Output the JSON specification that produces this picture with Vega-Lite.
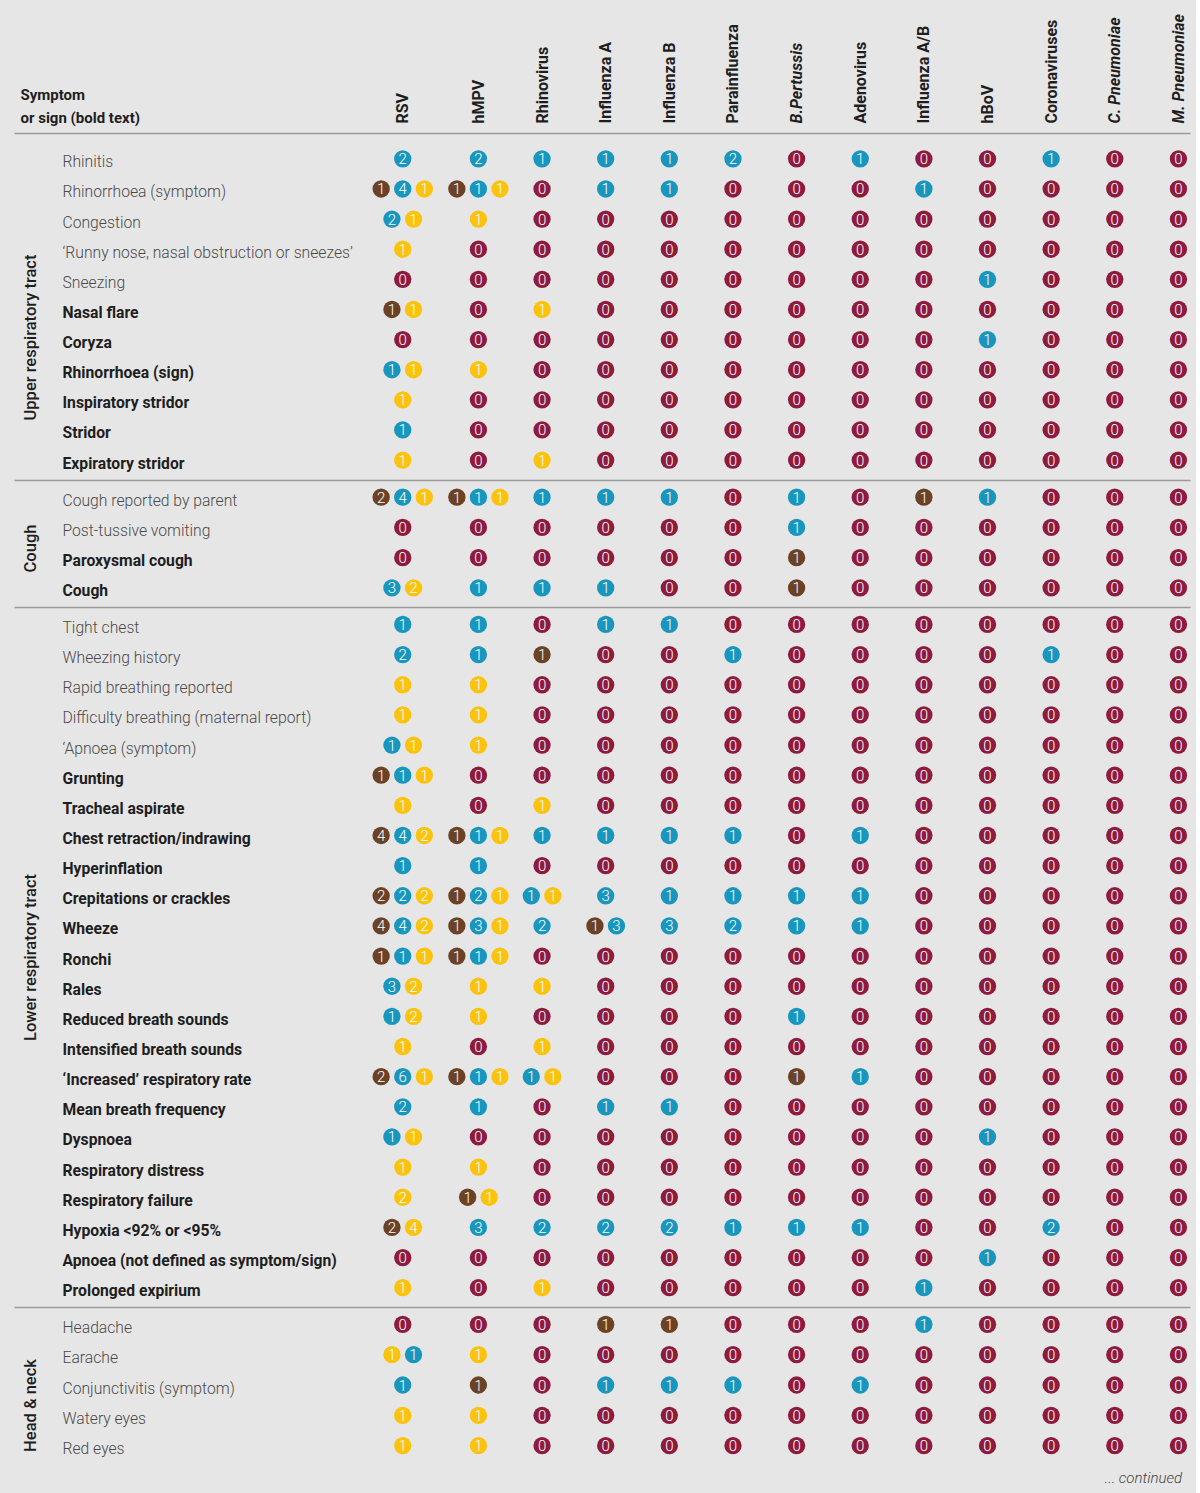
{
"$schema": "https://vega.github.io/schema/vega-lite/v6.json",
"background": "#e6e6e6",
"padding": {"left": 14, "top": 13, "right": 6, "bottom": 8},
"config": {
  "view": {"stroke": null},
  "font": "Roboto",
  "axis": {"grid": false},
  "axisY": {"ticks": false, "tickSize": 0, "domain": false, "labelAlign": "left", "labelPadding": -48, "labelFontSize": 15.7, "labelLimit": 400, "labelOffset": 3.5, "labelOverlap": false, "titleX": 16, "titleAngle": 270, "titleAlign": "center", "titleBaseline": "middle", "titleFontSize": 16.5, "titleFontWeight": 500, "titleColor": "#1e1e1e"},
  "axisX": {"ticks": false, "tickSize": 0, "domain": true, "domainColor": "#9a9a9a", "domainWidth": 1.5, "labelOverlap": false, "labelFlush": false, "labelBound": false}
},
"title": {"text": "... continued", "orient": "bottom", "anchor": "end", "fontSize": 15, "fontStyle": "italic", "fontWeight": 300, "color": "#444444", "offset": 8, "dx": -8},
"datasets": {
"symptoms": [
{"id":1,"s":"Rhinitis","g":"Upper respiratory tract"},
{"id":2,"s":"Rhinorrhoea (symptom)","g":"Upper respiratory tract"},
{"id":3,"s":"Congestion","g":"Upper respiratory tract"},
{"id":4,"s":"‘Runny nose, nasal obstruction or sneezes’","g":"Upper respiratory tract"},
{"id":5,"s":"Sneezing","g":"Upper respiratory tract"},
{"id":6,"s":"Nasal flare","g":"Upper respiratory tract"},
{"id":7,"s":"Coryza","g":"Upper respiratory tract"},
{"id":8,"s":"Rhinorrhoea (sign)","g":"Upper respiratory tract"},
{"id":9,"s":"Inspiratory stridor","g":"Upper respiratory tract"},
{"id":10,"s":"Stridor","g":"Upper respiratory tract"},
{"id":11,"s":"Expiratory stridor","g":"Upper respiratory tract"},
{"id":12,"s":"Cough reported by parent","g":"Cough"},
{"id":13,"s":"Post-tussive vomiting","g":"Cough"},
{"id":14,"s":"Paroxysmal cough","g":"Cough"},
{"id":15,"s":"Cough","g":"Cough"},
{"id":16,"s":"Tight chest","g":"Lower respiratory tract"},
{"id":17,"s":"Wheezing history","g":"Lower respiratory tract"},
{"id":18,"s":"Rapid breathing reported","g":"Lower respiratory tract"},
{"id":19,"s":"Difficulty breathing (maternal report)","g":"Lower respiratory tract"},
{"id":20,"s":"‘Apnoea (symptom)","g":"Lower respiratory tract"},
{"id":21,"s":"Grunting","g":"Lower respiratory tract"},
{"id":22,"s":"Tracheal aspirate","g":"Lower respiratory tract"},
{"id":23,"s":"Chest retraction/indrawing","g":"Lower respiratory tract"},
{"id":24,"s":"Hyperinflation","g":"Lower respiratory tract"},
{"id":25,"s":"Crepitations or crackles","g":"Lower respiratory tract"},
{"id":26,"s":"Wheeze","g":"Lower respiratory tract"},
{"id":27,"s":"Ronchi","g":"Lower respiratory tract"},
{"id":28,"s":"Rales","g":"Lower respiratory tract"},
{"id":29,"s":"Reduced breath sounds","g":"Lower respiratory tract"},
{"id":30,"s":"Intensified breath sounds","g":"Lower respiratory tract"},
{"id":31,"s":"‘Increased’ respiratory rate","g":"Lower respiratory tract"},
{"id":32,"s":"Mean breath frequency","g":"Lower respiratory tract"},
{"id":33,"s":"Dyspnoea","g":"Lower respiratory tract"},
{"id":34,"s":"Respiratory distress","g":"Lower respiratory tract"},
{"id":35,"s":"Respiratory failure","g":"Lower respiratory tract"},
{"id":36,"s":"Hypoxia <92% or <95%","g":"Lower respiratory tract"},
{"id":37,"s":"Apnoea (not defined as symptom/sign)","g":"Lower respiratory tract"},
{"id":38,"s":"Prolonged expirium","g":"Lower respiratory tract"},
{"id":39,"s":"Headache","g":"Head & neck"},
{"id":40,"s":"Earache","g":"Head & neck"},
{"id":41,"s":"Conjunctivitis (symptom)","g":"Head & neck"},
{"id":42,"s":"Watery eyes","g":"Head & neck"},
{"id":43,"s":"Red eyes","g":"Head & neck"}
],
"cells": [
{"id":1,"p":"RSV","c":"b","n":2},{"id":1,"p":"hMPV","c":"b","n":2},{"id":1,"p":"RV","c":"b","n":1},{"id":1,"p":"FluA","c":"b","n":1},{"id":1,"p":"FluB","c":"b","n":1},{"id":1,"p":"PIV","c":"b","n":2},{"id":1,"p":"BP","c":"z","n":0},{"id":1,"p":"AdV","c":"b","n":1},{"id":1,"p":"FluAB","c":"z","n":0},{"id":1,"p":"hBoV","c":"z","n":0},{"id":1,"p":"CoV","c":"b","n":1},{"id":1,"p":"CP","c":"z","n":0},{"id":1,"p":"MP","c":"z","n":0},
{"id":2,"p":"RSV","c":"a","n":1},{"id":2,"p":"RSV","c":"b","n":4},{"id":2,"p":"RSV","c":"c","n":1},{"id":2,"p":"hMPV","c":"a","n":1},{"id":2,"p":"hMPV","c":"b","n":1},{"id":2,"p":"hMPV","c":"c","n":1},{"id":2,"p":"RV","c":"z","n":0},{"id":2,"p":"FluA","c":"b","n":1},{"id":2,"p":"FluB","c":"b","n":1},{"id":2,"p":"PIV","c":"z","n":0},{"id":2,"p":"BP","c":"z","n":0},{"id":2,"p":"AdV","c":"z","n":0},{"id":2,"p":"FluAB","c":"b","n":1},{"id":2,"p":"hBoV","c":"z","n":0},{"id":2,"p":"CoV","c":"z","n":0},{"id":2,"p":"CP","c":"z","n":0},{"id":2,"p":"MP","c":"z","n":0},
{"id":3,"p":"RSV","c":"b","n":2},{"id":3,"p":"RSV","c":"c","n":1},{"id":3,"p":"hMPV","c":"c","n":1},{"id":3,"p":"RV","c":"z","n":0},{"id":3,"p":"FluA","c":"z","n":0},{"id":3,"p":"FluB","c":"z","n":0},{"id":3,"p":"PIV","c":"z","n":0},{"id":3,"p":"BP","c":"z","n":0},{"id":3,"p":"AdV","c":"z","n":0},{"id":3,"p":"FluAB","c":"z","n":0},{"id":3,"p":"hBoV","c":"z","n":0},{"id":3,"p":"CoV","c":"z","n":0},{"id":3,"p":"CP","c":"z","n":0},{"id":3,"p":"MP","c":"z","n":0},
{"id":4,"p":"RSV","c":"c","n":1},{"id":4,"p":"hMPV","c":"z","n":0},{"id":4,"p":"RV","c":"z","n":0},{"id":4,"p":"FluA","c":"z","n":0},{"id":4,"p":"FluB","c":"z","n":0},{"id":4,"p":"PIV","c":"z","n":0},{"id":4,"p":"BP","c":"z","n":0},{"id":4,"p":"AdV","c":"z","n":0},{"id":4,"p":"FluAB","c":"z","n":0},{"id":4,"p":"hBoV","c":"z","n":0},{"id":4,"p":"CoV","c":"z","n":0},{"id":4,"p":"CP","c":"z","n":0},{"id":4,"p":"MP","c":"z","n":0},
{"id":5,"p":"RSV","c":"z","n":0},{"id":5,"p":"hMPV","c":"z","n":0},{"id":5,"p":"RV","c":"z","n":0},{"id":5,"p":"FluA","c":"z","n":0},{"id":5,"p":"FluB","c":"z","n":0},{"id":5,"p":"PIV","c":"z","n":0},{"id":5,"p":"BP","c":"z","n":0},{"id":5,"p":"AdV","c":"z","n":0},{"id":5,"p":"FluAB","c":"z","n":0},{"id":5,"p":"hBoV","c":"b","n":1},{"id":5,"p":"CoV","c":"z","n":0},{"id":5,"p":"CP","c":"z","n":0},{"id":5,"p":"MP","c":"z","n":0},
{"id":6,"p":"RSV","c":"a","n":1},{"id":6,"p":"RSV","c":"c","n":1},{"id":6,"p":"hMPV","c":"z","n":0},{"id":6,"p":"RV","c":"c","n":1},{"id":6,"p":"FluA","c":"z","n":0},{"id":6,"p":"FluB","c":"z","n":0},{"id":6,"p":"PIV","c":"z","n":0},{"id":6,"p":"BP","c":"z","n":0},{"id":6,"p":"AdV","c":"z","n":0},{"id":6,"p":"FluAB","c":"z","n":0},{"id":6,"p":"hBoV","c":"z","n":0},{"id":6,"p":"CoV","c":"z","n":0},{"id":6,"p":"CP","c":"z","n":0},{"id":6,"p":"MP","c":"z","n":0},
{"id":7,"p":"RSV","c":"z","n":0},{"id":7,"p":"hMPV","c":"z","n":0},{"id":7,"p":"RV","c":"z","n":0},{"id":7,"p":"FluA","c":"z","n":0},{"id":7,"p":"FluB","c":"z","n":0},{"id":7,"p":"PIV","c":"z","n":0},{"id":7,"p":"BP","c":"z","n":0},{"id":7,"p":"AdV","c":"z","n":0},{"id":7,"p":"FluAB","c":"z","n":0},{"id":7,"p":"hBoV","c":"b","n":1},{"id":7,"p":"CoV","c":"z","n":0},{"id":7,"p":"CP","c":"z","n":0},{"id":7,"p":"MP","c":"z","n":0},
{"id":8,"p":"RSV","c":"b","n":1},{"id":8,"p":"RSV","c":"c","n":1},{"id":8,"p":"hMPV","c":"c","n":1},{"id":8,"p":"RV","c":"z","n":0},{"id":8,"p":"FluA","c":"z","n":0},{"id":8,"p":"FluB","c":"z","n":0},{"id":8,"p":"PIV","c":"z","n":0},{"id":8,"p":"BP","c":"z","n":0},{"id":8,"p":"AdV","c":"z","n":0},{"id":8,"p":"FluAB","c":"z","n":0},{"id":8,"p":"hBoV","c":"z","n":0},{"id":8,"p":"CoV","c":"z","n":0},{"id":8,"p":"CP","c":"z","n":0},{"id":8,"p":"MP","c":"z","n":0},
{"id":9,"p":"RSV","c":"c","n":1},{"id":9,"p":"hMPV","c":"z","n":0},{"id":9,"p":"RV","c":"z","n":0},{"id":9,"p":"FluA","c":"z","n":0},{"id":9,"p":"FluB","c":"z","n":0},{"id":9,"p":"PIV","c":"z","n":0},{"id":9,"p":"BP","c":"z","n":0},{"id":9,"p":"AdV","c":"z","n":0},{"id":9,"p":"FluAB","c":"z","n":0},{"id":9,"p":"hBoV","c":"z","n":0},{"id":9,"p":"CoV","c":"z","n":0},{"id":9,"p":"CP","c":"z","n":0},{"id":9,"p":"MP","c":"z","n":0},
{"id":10,"p":"RSV","c":"b","n":1},{"id":10,"p":"hMPV","c":"z","n":0},{"id":10,"p":"RV","c":"z","n":0},{"id":10,"p":"FluA","c":"z","n":0},{"id":10,"p":"FluB","c":"z","n":0},{"id":10,"p":"PIV","c":"z","n":0},{"id":10,"p":"BP","c":"z","n":0},{"id":10,"p":"AdV","c":"z","n":0},{"id":10,"p":"FluAB","c":"z","n":0},{"id":10,"p":"hBoV","c":"z","n":0},{"id":10,"p":"CoV","c":"z","n":0},{"id":10,"p":"CP","c":"z","n":0},{"id":10,"p":"MP","c":"z","n":0},
{"id":11,"p":"RSV","c":"c","n":1},{"id":11,"p":"hMPV","c":"z","n":0},{"id":11,"p":"RV","c":"c","n":1},{"id":11,"p":"FluA","c":"z","n":0},{"id":11,"p":"FluB","c":"z","n":0},{"id":11,"p":"PIV","c":"z","n":0},{"id":11,"p":"BP","c":"z","n":0},{"id":11,"p":"AdV","c":"z","n":0},{"id":11,"p":"FluAB","c":"z","n":0},{"id":11,"p":"hBoV","c":"z","n":0},{"id":11,"p":"CoV","c":"z","n":0},{"id":11,"p":"CP","c":"z","n":0},{"id":11,"p":"MP","c":"z","n":0},
{"id":12,"p":"RSV","c":"a","n":2},{"id":12,"p":"RSV","c":"b","n":4},{"id":12,"p":"RSV","c":"c","n":1},{"id":12,"p":"hMPV","c":"a","n":1},{"id":12,"p":"hMPV","c":"b","n":1},{"id":12,"p":"hMPV","c":"c","n":1},{"id":12,"p":"RV","c":"b","n":1},{"id":12,"p":"FluA","c":"b","n":1},{"id":12,"p":"FluB","c":"b","n":1},{"id":12,"p":"PIV","c":"z","n":0},{"id":12,"p":"BP","c":"b","n":1},{"id":12,"p":"AdV","c":"z","n":0},{"id":12,"p":"FluAB","c":"a","n":1},{"id":12,"p":"hBoV","c":"b","n":1},{"id":12,"p":"CoV","c":"z","n":0},{"id":12,"p":"CP","c":"z","n":0},{"id":12,"p":"MP","c":"z","n":0},
{"id":13,"p":"RSV","c":"z","n":0},{"id":13,"p":"hMPV","c":"z","n":0},{"id":13,"p":"RV","c":"z","n":0},{"id":13,"p":"FluA","c":"z","n":0},{"id":13,"p":"FluB","c":"z","n":0},{"id":13,"p":"PIV","c":"z","n":0},{"id":13,"p":"BP","c":"b","n":1},{"id":13,"p":"AdV","c":"z","n":0},{"id":13,"p":"FluAB","c":"z","n":0},{"id":13,"p":"hBoV","c":"z","n":0},{"id":13,"p":"CoV","c":"z","n":0},{"id":13,"p":"CP","c":"z","n":0},{"id":13,"p":"MP","c":"z","n":0},
{"id":14,"p":"RSV","c":"z","n":0},{"id":14,"p":"hMPV","c":"z","n":0},{"id":14,"p":"RV","c":"z","n":0},{"id":14,"p":"FluA","c":"z","n":0},{"id":14,"p":"FluB","c":"z","n":0},{"id":14,"p":"PIV","c":"z","n":0},{"id":14,"p":"BP","c":"a","n":1},{"id":14,"p":"AdV","c":"z","n":0},{"id":14,"p":"FluAB","c":"z","n":0},{"id":14,"p":"hBoV","c":"z","n":0},{"id":14,"p":"CoV","c":"z","n":0},{"id":14,"p":"CP","c":"z","n":0},{"id":14,"p":"MP","c":"z","n":0},
{"id":15,"p":"RSV","c":"b","n":3},{"id":15,"p":"RSV","c":"c","n":2},{"id":15,"p":"hMPV","c":"b","n":1},{"id":15,"p":"RV","c":"b","n":1},{"id":15,"p":"FluA","c":"b","n":1},{"id":15,"p":"FluB","c":"z","n":0},{"id":15,"p":"PIV","c":"z","n":0},{"id":15,"p":"BP","c":"a","n":1},{"id":15,"p":"AdV","c":"z","n":0},{"id":15,"p":"FluAB","c":"z","n":0},{"id":15,"p":"hBoV","c":"z","n":0},{"id":15,"p":"CoV","c":"z","n":0},{"id":15,"p":"CP","c":"z","n":0},{"id":15,"p":"MP","c":"z","n":0},
{"id":16,"p":"RSV","c":"b","n":1},{"id":16,"p":"hMPV","c":"b","n":1},{"id":16,"p":"RV","c":"z","n":0},{"id":16,"p":"FluA","c":"b","n":1},{"id":16,"p":"FluB","c":"b","n":1},{"id":16,"p":"PIV","c":"z","n":0},{"id":16,"p":"BP","c":"z","n":0},{"id":16,"p":"AdV","c":"z","n":0},{"id":16,"p":"FluAB","c":"z","n":0},{"id":16,"p":"hBoV","c":"z","n":0},{"id":16,"p":"CoV","c":"z","n":0},{"id":16,"p":"CP","c":"z","n":0},{"id":16,"p":"MP","c":"z","n":0},
{"id":17,"p":"RSV","c":"b","n":2},{"id":17,"p":"hMPV","c":"b","n":1},{"id":17,"p":"RV","c":"a","n":1},{"id":17,"p":"FluA","c":"z","n":0},{"id":17,"p":"FluB","c":"z","n":0},{"id":17,"p":"PIV","c":"b","n":1},{"id":17,"p":"BP","c":"z","n":0},{"id":17,"p":"AdV","c":"z","n":0},{"id":17,"p":"FluAB","c":"z","n":0},{"id":17,"p":"hBoV","c":"z","n":0},{"id":17,"p":"CoV","c":"b","n":1},{"id":17,"p":"CP","c":"z","n":0},{"id":17,"p":"MP","c":"z","n":0},
{"id":18,"p":"RSV","c":"c","n":1},{"id":18,"p":"hMPV","c":"c","n":1},{"id":18,"p":"RV","c":"z","n":0},{"id":18,"p":"FluA","c":"z","n":0},{"id":18,"p":"FluB","c":"z","n":0},{"id":18,"p":"PIV","c":"z","n":0},{"id":18,"p":"BP","c":"z","n":0},{"id":18,"p":"AdV","c":"z","n":0},{"id":18,"p":"FluAB","c":"z","n":0},{"id":18,"p":"hBoV","c":"z","n":0},{"id":18,"p":"CoV","c":"z","n":0},{"id":18,"p":"CP","c":"z","n":0},{"id":18,"p":"MP","c":"z","n":0},
{"id":19,"p":"RSV","c":"c","n":1},{"id":19,"p":"hMPV","c":"c","n":1},{"id":19,"p":"RV","c":"z","n":0},{"id":19,"p":"FluA","c":"z","n":0},{"id":19,"p":"FluB","c":"z","n":0},{"id":19,"p":"PIV","c":"z","n":0},{"id":19,"p":"BP","c":"z","n":0},{"id":19,"p":"AdV","c":"z","n":0},{"id":19,"p":"FluAB","c":"z","n":0},{"id":19,"p":"hBoV","c":"z","n":0},{"id":19,"p":"CoV","c":"z","n":0},{"id":19,"p":"CP","c":"z","n":0},{"id":19,"p":"MP","c":"z","n":0},
{"id":20,"p":"RSV","c":"b","n":1},{"id":20,"p":"RSV","c":"c","n":1},{"id":20,"p":"hMPV","c":"c","n":1},{"id":20,"p":"RV","c":"z","n":0},{"id":20,"p":"FluA","c":"z","n":0},{"id":20,"p":"FluB","c":"z","n":0},{"id":20,"p":"PIV","c":"z","n":0},{"id":20,"p":"BP","c":"z","n":0},{"id":20,"p":"AdV","c":"z","n":0},{"id":20,"p":"FluAB","c":"z","n":0},{"id":20,"p":"hBoV","c":"z","n":0},{"id":20,"p":"CoV","c":"z","n":0},{"id":20,"p":"CP","c":"z","n":0},{"id":20,"p":"MP","c":"z","n":0},
{"id":21,"p":"RSV","c":"a","n":1},{"id":21,"p":"RSV","c":"b","n":1},{"id":21,"p":"RSV","c":"c","n":1},{"id":21,"p":"hMPV","c":"z","n":0},{"id":21,"p":"RV","c":"z","n":0},{"id":21,"p":"FluA","c":"z","n":0},{"id":21,"p":"FluB","c":"z","n":0},{"id":21,"p":"PIV","c":"z","n":0},{"id":21,"p":"BP","c":"z","n":0},{"id":21,"p":"AdV","c":"z","n":0},{"id":21,"p":"FluAB","c":"z","n":0},{"id":21,"p":"hBoV","c":"z","n":0},{"id":21,"p":"CoV","c":"z","n":0},{"id":21,"p":"CP","c":"z","n":0},{"id":21,"p":"MP","c":"z","n":0},
{"id":22,"p":"RSV","c":"c","n":1},{"id":22,"p":"hMPV","c":"z","n":0},{"id":22,"p":"RV","c":"c","n":1},{"id":22,"p":"FluA","c":"z","n":0},{"id":22,"p":"FluB","c":"z","n":0},{"id":22,"p":"PIV","c":"z","n":0},{"id":22,"p":"BP","c":"z","n":0},{"id":22,"p":"AdV","c":"z","n":0},{"id":22,"p":"FluAB","c":"z","n":0},{"id":22,"p":"hBoV","c":"z","n":0},{"id":22,"p":"CoV","c":"z","n":0},{"id":22,"p":"CP","c":"z","n":0},{"id":22,"p":"MP","c":"z","n":0},
{"id":23,"p":"RSV","c":"a","n":4},{"id":23,"p":"RSV","c":"b","n":4},{"id":23,"p":"RSV","c":"c","n":2},{"id":23,"p":"hMPV","c":"a","n":1},{"id":23,"p":"hMPV","c":"b","n":1},{"id":23,"p":"hMPV","c":"c","n":1},{"id":23,"p":"RV","c":"b","n":1},{"id":23,"p":"FluA","c":"b","n":1},{"id":23,"p":"FluB","c":"b","n":1},{"id":23,"p":"PIV","c":"b","n":1},{"id":23,"p":"BP","c":"z","n":0},{"id":23,"p":"AdV","c":"b","n":1},{"id":23,"p":"FluAB","c":"z","n":0},{"id":23,"p":"hBoV","c":"z","n":0},{"id":23,"p":"CoV","c":"z","n":0},{"id":23,"p":"CP","c":"z","n":0},{"id":23,"p":"MP","c":"z","n":0},
{"id":24,"p":"RSV","c":"b","n":1},{"id":24,"p":"hMPV","c":"b","n":1},{"id":24,"p":"RV","c":"z","n":0},{"id":24,"p":"FluA","c":"z","n":0},{"id":24,"p":"FluB","c":"z","n":0},{"id":24,"p":"PIV","c":"z","n":0},{"id":24,"p":"BP","c":"z","n":0},{"id":24,"p":"AdV","c":"z","n":0},{"id":24,"p":"FluAB","c":"z","n":0},{"id":24,"p":"hBoV","c":"z","n":0},{"id":24,"p":"CoV","c":"z","n":0},{"id":24,"p":"CP","c":"z","n":0},{"id":24,"p":"MP","c":"z","n":0},
{"id":25,"p":"RSV","c":"a","n":2},{"id":25,"p":"RSV","c":"b","n":2},{"id":25,"p":"RSV","c":"c","n":2},{"id":25,"p":"hMPV","c":"a","n":1},{"id":25,"p":"hMPV","c":"b","n":2},{"id":25,"p":"hMPV","c":"c","n":1},{"id":25,"p":"RV","c":"b","n":1},{"id":25,"p":"RV","c":"c","n":1},{"id":25,"p":"FluA","c":"b","n":3},{"id":25,"p":"FluB","c":"b","n":1},{"id":25,"p":"PIV","c":"b","n":1},{"id":25,"p":"BP","c":"b","n":1},{"id":25,"p":"AdV","c":"b","n":1},{"id":25,"p":"FluAB","c":"z","n":0},{"id":25,"p":"hBoV","c":"z","n":0},{"id":25,"p":"CoV","c":"z","n":0},{"id":25,"p":"CP","c":"z","n":0},{"id":25,"p":"MP","c":"z","n":0},
{"id":26,"p":"RSV","c":"a","n":4},{"id":26,"p":"RSV","c":"b","n":4},{"id":26,"p":"RSV","c":"c","n":2},{"id":26,"p":"hMPV","c":"a","n":1},{"id":26,"p":"hMPV","c":"b","n":3},{"id":26,"p":"hMPV","c":"c","n":1},{"id":26,"p":"RV","c":"b","n":2},{"id":26,"p":"FluA","c":"a","n":1},{"id":26,"p":"FluA","c":"b","n":3},{"id":26,"p":"FluB","c":"b","n":3},{"id":26,"p":"PIV","c":"b","n":2},{"id":26,"p":"BP","c":"b","n":1},{"id":26,"p":"AdV","c":"b","n":1},{"id":26,"p":"FluAB","c":"z","n":0},{"id":26,"p":"hBoV","c":"z","n":0},{"id":26,"p":"CoV","c":"z","n":0},{"id":26,"p":"CP","c":"z","n":0},{"id":26,"p":"MP","c":"z","n":0},
{"id":27,"p":"RSV","c":"a","n":1},{"id":27,"p":"RSV","c":"b","n":1},{"id":27,"p":"RSV","c":"c","n":1},{"id":27,"p":"hMPV","c":"a","n":1},{"id":27,"p":"hMPV","c":"b","n":1},{"id":27,"p":"hMPV","c":"c","n":1},{"id":27,"p":"RV","c":"z","n":0},{"id":27,"p":"FluA","c":"z","n":0},{"id":27,"p":"FluB","c":"z","n":0},{"id":27,"p":"PIV","c":"z","n":0},{"id":27,"p":"BP","c":"z","n":0},{"id":27,"p":"AdV","c":"z","n":0},{"id":27,"p":"FluAB","c":"z","n":0},{"id":27,"p":"hBoV","c":"z","n":0},{"id":27,"p":"CoV","c":"z","n":0},{"id":27,"p":"CP","c":"z","n":0},{"id":27,"p":"MP","c":"z","n":0},
{"id":28,"p":"RSV","c":"b","n":3},{"id":28,"p":"RSV","c":"c","n":2},{"id":28,"p":"hMPV","c":"c","n":1},{"id":28,"p":"RV","c":"c","n":1},{"id":28,"p":"FluA","c":"z","n":0},{"id":28,"p":"FluB","c":"z","n":0},{"id":28,"p":"PIV","c":"z","n":0},{"id":28,"p":"BP","c":"z","n":0},{"id":28,"p":"AdV","c":"z","n":0},{"id":28,"p":"FluAB","c":"z","n":0},{"id":28,"p":"hBoV","c":"z","n":0},{"id":28,"p":"CoV","c":"z","n":0},{"id":28,"p":"CP","c":"z","n":0},{"id":28,"p":"MP","c":"z","n":0},
{"id":29,"p":"RSV","c":"b","n":1},{"id":29,"p":"RSV","c":"c","n":2},{"id":29,"p":"hMPV","c":"c","n":1},{"id":29,"p":"RV","c":"z","n":0},{"id":29,"p":"FluA","c":"z","n":0},{"id":29,"p":"FluB","c":"z","n":0},{"id":29,"p":"PIV","c":"z","n":0},{"id":29,"p":"BP","c":"b","n":1},{"id":29,"p":"AdV","c":"z","n":0},{"id":29,"p":"FluAB","c":"z","n":0},{"id":29,"p":"hBoV","c":"z","n":0},{"id":29,"p":"CoV","c":"z","n":0},{"id":29,"p":"CP","c":"z","n":0},{"id":29,"p":"MP","c":"z","n":0},
{"id":30,"p":"RSV","c":"c","n":1},{"id":30,"p":"hMPV","c":"z","n":0},{"id":30,"p":"RV","c":"c","n":1},{"id":30,"p":"FluA","c":"z","n":0},{"id":30,"p":"FluB","c":"z","n":0},{"id":30,"p":"PIV","c":"z","n":0},{"id":30,"p":"BP","c":"z","n":0},{"id":30,"p":"AdV","c":"z","n":0},{"id":30,"p":"FluAB","c":"z","n":0},{"id":30,"p":"hBoV","c":"z","n":0},{"id":30,"p":"CoV","c":"z","n":0},{"id":30,"p":"CP","c":"z","n":0},{"id":30,"p":"MP","c":"z","n":0},
{"id":31,"p":"RSV","c":"a","n":2},{"id":31,"p":"RSV","c":"b","n":6},{"id":31,"p":"RSV","c":"c","n":1},{"id":31,"p":"hMPV","c":"a","n":1},{"id":31,"p":"hMPV","c":"b","n":1},{"id":31,"p":"hMPV","c":"c","n":1},{"id":31,"p":"RV","c":"b","n":1},{"id":31,"p":"RV","c":"c","n":1},{"id":31,"p":"FluA","c":"z","n":0},{"id":31,"p":"FluB","c":"z","n":0},{"id":31,"p":"PIV","c":"z","n":0},{"id":31,"p":"BP","c":"a","n":1},{"id":31,"p":"AdV","c":"b","n":1},{"id":31,"p":"FluAB","c":"z","n":0},{"id":31,"p":"hBoV","c":"z","n":0},{"id":31,"p":"CoV","c":"z","n":0},{"id":31,"p":"CP","c":"z","n":0},{"id":31,"p":"MP","c":"z","n":0},
{"id":32,"p":"RSV","c":"b","n":2},{"id":32,"p":"hMPV","c":"b","n":1},{"id":32,"p":"RV","c":"z","n":0},{"id":32,"p":"FluA","c":"b","n":1},{"id":32,"p":"FluB","c":"b","n":1},{"id":32,"p":"PIV","c":"z","n":0},{"id":32,"p":"BP","c":"z","n":0},{"id":32,"p":"AdV","c":"z","n":0},{"id":32,"p":"FluAB","c":"z","n":0},{"id":32,"p":"hBoV","c":"z","n":0},{"id":32,"p":"CoV","c":"z","n":0},{"id":32,"p":"CP","c":"z","n":0},{"id":32,"p":"MP","c":"z","n":0},
{"id":33,"p":"RSV","c":"b","n":1},{"id":33,"p":"RSV","c":"c","n":1},{"id":33,"p":"hMPV","c":"z","n":0},{"id":33,"p":"RV","c":"z","n":0},{"id":33,"p":"FluA","c":"z","n":0},{"id":33,"p":"FluB","c":"z","n":0},{"id":33,"p":"PIV","c":"z","n":0},{"id":33,"p":"BP","c":"z","n":0},{"id":33,"p":"AdV","c":"z","n":0},{"id":33,"p":"FluAB","c":"z","n":0},{"id":33,"p":"hBoV","c":"b","n":1},{"id":33,"p":"CoV","c":"z","n":0},{"id":33,"p":"CP","c":"z","n":0},{"id":33,"p":"MP","c":"z","n":0},
{"id":34,"p":"RSV","c":"c","n":1},{"id":34,"p":"hMPV","c":"c","n":1},{"id":34,"p":"RV","c":"z","n":0},{"id":34,"p":"FluA","c":"z","n":0},{"id":34,"p":"FluB","c":"z","n":0},{"id":34,"p":"PIV","c":"z","n":0},{"id":34,"p":"BP","c":"z","n":0},{"id":34,"p":"AdV","c":"z","n":0},{"id":34,"p":"FluAB","c":"z","n":0},{"id":34,"p":"hBoV","c":"z","n":0},{"id":34,"p":"CoV","c":"z","n":0},{"id":34,"p":"CP","c":"z","n":0},{"id":34,"p":"MP","c":"z","n":0},
{"id":35,"p":"RSV","c":"c","n":2},{"id":35,"p":"hMPV","c":"a","n":1},{"id":35,"p":"hMPV","c":"c","n":1},{"id":35,"p":"RV","c":"z","n":0},{"id":35,"p":"FluA","c":"z","n":0},{"id":35,"p":"FluB","c":"z","n":0},{"id":35,"p":"PIV","c":"z","n":0},{"id":35,"p":"BP","c":"z","n":0},{"id":35,"p":"AdV","c":"z","n":0},{"id":35,"p":"FluAB","c":"z","n":0},{"id":35,"p":"hBoV","c":"z","n":0},{"id":35,"p":"CoV","c":"z","n":0},{"id":35,"p":"CP","c":"z","n":0},{"id":35,"p":"MP","c":"z","n":0},
{"id":36,"p":"RSV","c":"a","n":2},{"id":36,"p":"RSV","c":"c","n":4},{"id":36,"p":"hMPV","c":"b","n":3},{"id":36,"p":"RV","c":"b","n":2},{"id":36,"p":"FluA","c":"b","n":2},{"id":36,"p":"FluB","c":"b","n":2},{"id":36,"p":"PIV","c":"b","n":1},{"id":36,"p":"BP","c":"b","n":1},{"id":36,"p":"AdV","c":"b","n":1},{"id":36,"p":"FluAB","c":"z","n":0},{"id":36,"p":"hBoV","c":"z","n":0},{"id":36,"p":"CoV","c":"b","n":2},{"id":36,"p":"CP","c":"z","n":0},{"id":36,"p":"MP","c":"z","n":0},
{"id":37,"p":"RSV","c":"z","n":0},{"id":37,"p":"hMPV","c":"z","n":0},{"id":37,"p":"RV","c":"z","n":0},{"id":37,"p":"FluA","c":"z","n":0},{"id":37,"p":"FluB","c":"z","n":0},{"id":37,"p":"PIV","c":"z","n":0},{"id":37,"p":"BP","c":"z","n":0},{"id":37,"p":"AdV","c":"z","n":0},{"id":37,"p":"FluAB","c":"z","n":0},{"id":37,"p":"hBoV","c":"b","n":1},{"id":37,"p":"CoV","c":"z","n":0},{"id":37,"p":"CP","c":"z","n":0},{"id":37,"p":"MP","c":"z","n":0},
{"id":38,"p":"RSV","c":"c","n":1},{"id":38,"p":"hMPV","c":"z","n":0},{"id":38,"p":"RV","c":"c","n":1},{"id":38,"p":"FluA","c":"z","n":0},{"id":38,"p":"FluB","c":"z","n":0},{"id":38,"p":"PIV","c":"z","n":0},{"id":38,"p":"BP","c":"z","n":0},{"id":38,"p":"AdV","c":"z","n":0},{"id":38,"p":"FluAB","c":"b","n":1},{"id":38,"p":"hBoV","c":"z","n":0},{"id":38,"p":"CoV","c":"z","n":0},{"id":38,"p":"CP","c":"z","n":0},{"id":38,"p":"MP","c":"z","n":0},
{"id":39,"p":"RSV","c":"z","n":0},{"id":39,"p":"hMPV","c":"z","n":0},{"id":39,"p":"RV","c":"z","n":0},{"id":39,"p":"FluA","c":"a","n":1},{"id":39,"p":"FluB","c":"a","n":1},{"id":39,"p":"PIV","c":"z","n":0},{"id":39,"p":"BP","c":"z","n":0},{"id":39,"p":"AdV","c":"z","n":0},{"id":39,"p":"FluAB","c":"b","n":1},{"id":39,"p":"hBoV","c":"z","n":0},{"id":39,"p":"CoV","c":"z","n":0},{"id":39,"p":"CP","c":"z","n":0},{"id":39,"p":"MP","c":"z","n":0},
{"id":40,"p":"RSV","c":"c","n":1},{"id":40,"p":"RSV","c":"b","n":1},{"id":40,"p":"hMPV","c":"c","n":1},{"id":40,"p":"RV","c":"z","n":0},{"id":40,"p":"FluA","c":"z","n":0},{"id":40,"p":"FluB","c":"z","n":0},{"id":40,"p":"PIV","c":"z","n":0},{"id":40,"p":"BP","c":"z","n":0},{"id":40,"p":"AdV","c":"z","n":0},{"id":40,"p":"FluAB","c":"z","n":0},{"id":40,"p":"hBoV","c":"z","n":0},{"id":40,"p":"CoV","c":"z","n":0},{"id":40,"p":"CP","c":"z","n":0},{"id":40,"p":"MP","c":"z","n":0},
{"id":41,"p":"RSV","c":"b","n":1},{"id":41,"p":"hMPV","c":"a","n":1},{"id":41,"p":"RV","c":"z","n":0},{"id":41,"p":"FluA","c":"b","n":1},{"id":41,"p":"FluB","c":"b","n":1},{"id":41,"p":"PIV","c":"b","n":1},{"id":41,"p":"BP","c":"z","n":0},{"id":41,"p":"AdV","c":"b","n":1},{"id":41,"p":"FluAB","c":"z","n":0},{"id":41,"p":"hBoV","c":"z","n":0},{"id":41,"p":"CoV","c":"z","n":0},{"id":41,"p":"CP","c":"z","n":0},{"id":41,"p":"MP","c":"z","n":0},
{"id":42,"p":"RSV","c":"c","n":1},{"id":42,"p":"hMPV","c":"c","n":1},{"id":42,"p":"RV","c":"z","n":0},{"id":42,"p":"FluA","c":"z","n":0},{"id":42,"p":"FluB","c":"z","n":0},{"id":42,"p":"PIV","c":"z","n":0},{"id":42,"p":"BP","c":"z","n":0},{"id":42,"p":"AdV","c":"z","n":0},{"id":42,"p":"FluAB","c":"z","n":0},{"id":42,"p":"hBoV","c":"z","n":0},{"id":42,"p":"CoV","c":"z","n":0},{"id":42,"p":"CP","c":"z","n":0},{"id":42,"p":"MP","c":"z","n":0},
{"id":43,"p":"RSV","c":"c","n":1},{"id":43,"p":"hMPV","c":"c","n":1},{"id":43,"p":"RV","c":"z","n":0},{"id":43,"p":"FluA","c":"z","n":0},{"id":43,"p":"FluB","c":"z","n":0},{"id":43,"p":"PIV","c":"z","n":0},{"id":43,"p":"BP","c":"z","n":0},{"id":43,"p":"AdV","c":"z","n":0},{"id":43,"p":"FluAB","c":"z","n":0},{"id":43,"p":"hBoV","c":"z","n":0},{"id":43,"p":"CoV","c":"z","n":0},{"id":43,"p":"CP","c":"z","n":0},{"id":43,"p":"MP","c":"z","n":0}
]
},
"data": {"name": "cells"},
"transform": [
  {"lookup": "id", "from": {"data": {"name": "symptoms"}, "key": "id", "fields": ["s", "g"]}},
  {"joinaggregate": [{"op": "count", "as": "k"}], "groupby": ["id", "p"]},
  {"window": [{"op": "row_number", "as": "r"}], "groupby": ["id", "p"]},
  {"calculate": "indexof(['RSV','hMPV','RV','FluA','FluB','PIV','BP','AdV','FluAB','hBoV','CoV','CP','MP'], datum.p) + 0.1692 * (2*datum.r - datum.k - 1)", "as": "xp"}
],
"spacing": 0,
"resolve": {"scale": {"y": "independent"}},
"vconcat": [
{
  "width": 1176, "height": 347,
  "transform": [{"filter": "datum.g == 'Upper respiratory tract'"}],
  "encoding": {
    "x": {"field": "xp", "type": "quantitative", "scale": {"domain": [-6.093, 0.36, 0.64, 12.182], "range": [0, 411.7, 441.5, 1176], "nice": false, "zero": false},
      "axis": {"orient": "top", "values": [0,1,2,3,4,5,6,7,8,9,10,11,12], "labelAngle": -90, "labelPadding": 10, "labelFontSize": 16, "labelFontWeight": "bold", "labelColor": "#1e1e1e",
        "labelExpr": "['RSV','hMPV','Rhinovirus','Influenza A','Influenza B','Parainfluenza','B.Pertussis','Adenovirus','Influenza A/B','hBoV','Coronaviruses','C. Pneumoniae','M. Pneumoniae'][datum.value]",
        "labelFontStyle": {"condition": {"test": "datum.value == 6 || datum.value >= 11", "value": "italic"}, "value": "normal"},
        "title": ["Symptom", "or sign (bold text)"], "titleX": 6, "titleY": -31, "titleAlign": "left", "titleAngle": 0, "titleBaseline": "bottom", "titleFontSize": 15, "titleFontWeight": "bold", "titleColor": "#1e1e1e", "titleLineHeight": 23}},
    "y": {"field": "s", "type": "nominal", "sort": null, "scale": {"type": "band", "paddingInner": 0, "paddingOuter": 0.26, "align": 0.69},
      "axis": {"title": "Upper respiratory tract", "titleY": 204,
        "labelFontWeight": {"condition": {"test": "indexof(['Rhinitis','Rhinorrhoea (symptom)','Congestion','‘Runny nose, nasal obstruction or sneezes’','Sneezing'], datum.value) >= 0", "value": 300}, "value": "bold"},
        "labelColor": {"condition": {"test": "indexof(['Rhinitis','Rhinorrhoea (symptom)','Congestion','‘Runny nose, nasal obstruction or sneezes’','Sneezing'], datum.value) >= 0", "value": "#4a4a4a"}, "value": "#1e1e1e"}}}
  },
  "layer": [
    {"mark": {"type": "circle", "size": 300, "opacity": 1}, "encoding": {"color": {"field": "c", "type": "nominal", "scale": {"domain": ["a","b","c","z"], "range": ["#6b4226","#1996bd","#fbc30d","#8e1b3e"]}, "legend": null}}},
    {"mark": {"type": "text", "color": "#ffffff", "fontSize": 15, "fontWeight": 300, "dy": 0.5}, "encoding": {"text": {"field": "n", "type": "quantitative"}}}
  ]
},
{
  "width": 1176, "height": 127,
  "transform": [{"filter": "datum.g == 'Cough'"}],
  "encoding": {
    "x": {"field": "xp", "type": "quantitative", "scale": {"domain": [-6.093, 0.36, 0.64, 12.182], "range": [0, 411.7, 441.5, 1176], "nice": false, "zero": false},
      "axis": {"orient": "top", "labels": false, "title": null}},
    "y": {"field": "s", "type": "nominal", "sort": null, "scale": {"type": "band", "paddingInner": 0, "paddingOuter": 0.1, "align": 0.34},
      "axis": {"title": "Cough", "titleY": 68,
        "labelFontWeight": {"condition": {"test": "indexof(['Cough reported by parent','Post-tussive vomiting'], datum.value) >= 0", "value": 300}, "value": "bold"},
        "labelColor": {"condition": {"test": "indexof(['Cough reported by parent','Post-tussive vomiting'], datum.value) >= 0", "value": "#4a4a4a"}, "value": "#1e1e1e"}}}
  },
  "layer": [
    {"mark": {"type": "circle", "size": 300, "opacity": 1}, "encoding": {"color": {"field": "c", "type": "nominal", "scale": {"domain": ["a","b","c","z"], "range": ["#6b4226","#1996bd","#fbc30d","#8e1b3e"]}, "legend": null}}},
    {"mark": {"type": "text", "color": "#ffffff", "fontSize": 15, "fontWeight": 300, "dy": 0.5}, "encoding": {"text": {"field": "n", "type": "quantitative"}}}
  ]
},
{
  "width": 1176, "height": 700,
  "transform": [{"filter": "datum.g == 'Lower respiratory tract'"}],
  "encoding": {
    "x": {"field": "xp", "type": "quantitative", "scale": {"domain": [-6.093, 0.36, 0.64, 12.182], "range": [0, 411.7, 441.5, 1176], "nice": false, "zero": false},
      "axis": {"orient": "top", "labels": false, "title": null}},
    "y": {"field": "s", "type": "nominal", "sort": null, "scale": {"type": "band", "paddingInner": 0, "paddingOuter": 0.11, "align": 0.36},
      "axis": {"title": "Lower respiratory tract",
        "labelFontWeight": {"condition": {"test": "indexof(['Tight chest','Wheezing history','Rapid breathing reported','Difficulty breathing (maternal report)','‘Apnoea (symptom)'], datum.value) >= 0", "value": 300}, "value": "bold"},
        "labelColor": {"condition": {"test": "indexof(['Tight chest','Wheezing history','Rapid breathing reported','Difficulty breathing (maternal report)','‘Apnoea (symptom)'], datum.value) >= 0", "value": "#4a4a4a"}, "value": "#1e1e1e"}}}
  },
  "layer": [
    {"mark": {"type": "circle", "size": 300, "opacity": 1}, "encoding": {"color": {"field": "c", "type": "nominal", "scale": {"domain": ["a","b","c","z"], "range": ["#6b4226","#1996bd","#fbc30d","#8e1b3e"]}, "legend": null}}},
    {"mark": {"type": "text", "color": "#ffffff", "fontSize": 15, "fontWeight": 300, "dy": 0.5}, "encoding": {"text": {"field": "n", "type": "quantitative"}}}
  ]
},
{
  "width": 1176, "height": 156,
  "transform": [{"filter": "datum.g == 'Head & neck'"}],
  "encoding": {
    "x": {"field": "xp", "type": "quantitative", "scale": {"domain": [-6.093, 0.36, 0.64, 12.182], "range": [0, 411.7, 441.5, 1176], "nice": false, "zero": false},
      "axis": {"orient": "top", "labels": false, "title": null}},
    "y": {"field": "s", "type": "nominal", "sort": null, "scale": {"type": "band", "paddingInner": 0, "paddingOuter": 0.07, "align": 0.5},
      "axis": {"title": "Head & neck", "titleY": 98, "labelFontWeight": 300, "labelColor": "#4a4a4a"}}
  },
  "layer": [
    {"mark": {"type": "circle", "size": 300, "opacity": 1}, "encoding": {"color": {"field": "c", "type": "nominal", "scale": {"domain": ["a","b","c","z"], "range": ["#6b4226","#1996bd","#fbc30d","#8e1b3e"]}, "legend": null}}},
    {"mark": {"type": "text", "color": "#ffffff", "fontSize": 15, "fontWeight": 300, "dy": 0.5}, "encoding": {"text": {"field": "n", "type": "quantitative"}}}
  ]
}
]
}
